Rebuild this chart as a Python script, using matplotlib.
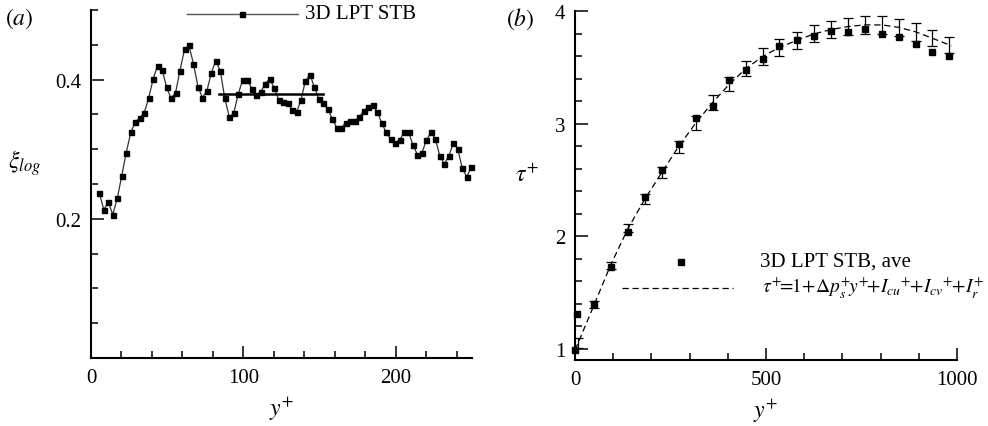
import matplotlib
matplotlib.use('Agg')
import matplotlib.pyplot as plt
from matplotlib.ticker import MultipleLocator, FixedLocator

plt.rcParams['font.family'] = 'serif'
plt.rcParams['font.serif'] = ['Liberation Serif', 'DejaVu Serif']
plt.rcParams['mathtext.fontset'] = 'stix'

# (a) xi_log against y+
yplus_a = [5.5, 8.4, 11.4, 14.3, 17.3, 20.2, 23.1, 26.1, 29.0, 32.0,
           34.9, 37.8, 40.8, 43.7, 46.7, 49.6, 52.5, 55.5, 58.4, 61.4,
           64.3, 67.2, 70.2, 73.1, 76.1, 79.0, 81.9, 84.9, 87.8, 90.8,
           93.7, 96.6, 99.6, 102.5, 105.5, 108.4, 111.3, 114.3, 117.2, 120.2,
           123.1, 126.0, 129.0, 131.9, 134.9, 137.8, 140.7, 143.7, 146.6, 149.6,
           152.5, 155.4, 158.4, 161.3, 164.3, 167.2, 170.1, 173.1, 176.0, 179.0,
           181.9, 184.8, 187.8, 190.7, 193.7, 196.6, 199.5, 202.5, 205.4, 208.4,
           211.3, 214.2, 217.2, 220.1, 223.1, 226.0, 228.9, 231.9, 234.8, 237.8,
           240.7, 243.6, 246.6, 249.5]
xi_log = [0.237, 0.213, 0.224, 0.206, 0.230, 0.262, 0.295, 0.324, 0.339, 0.345,
          0.352, 0.373, 0.401, 0.420, 0.414, 0.389, 0.373, 0.381, 0.413, 0.444,
          0.449, 0.423, 0.390, 0.374, 0.384, 0.410, 0.427, 0.412, 0.373, 0.346,
          0.352, 0.379, 0.400, 0.400, 0.387, 0.378, 0.382, 0.394, 0.401, 0.388,
          0.371, 0.368, 0.366, 0.357, 0.353, 0.371, 0.398, 0.407, 0.389, 0.372,
          0.366, 0.358, 0.343, 0.331, 0.331, 0.338, 0.340, 0.341, 0.346, 0.355,
          0.361, 0.363, 0.354, 0.338, 0.324, 0.315, 0.309, 0.313, 0.324, 0.324,
          0.306, 0.292, 0.295, 0.313, 0.324, 0.315, 0.290, 0.279, 0.290, 0.309,
          0.300, 0.273, 0.260, 0.274]
plateau_x = [84, 152]
plateau_y = [0.379, 0.379]

# (b) total shear stress against y+
stb_x = [0, 4, 50, 93, 139, 183, 227, 271, 316, 360, 404, 448, 491,
         535, 581, 625, 670, 715, 759, 804, 847, 892, 934, 979]
stb_tau = [0.99, 1.31, 1.40, 1.73, 2.04, 2.35, 2.59, 2.82, 3.05, 3.16, 3.39, 3.48, 3.57,
           3.69, 3.74, 3.78, 3.82, 3.81, 3.84, 3.80, 3.77, 3.71, 3.64, 3.60]

model_x = [0, 8, 50, 93, 139, 183, 227, 271, 316, 360, 404, 448, 491,
           535, 581, 625, 670, 715, 759, 804, 847, 892, 934, 979, 985]
model_tau = [0.99, 1.05, 1.39, 1.742, 2.07, 2.33, 2.565, 2.795, 3.005, 3.186, 3.35, 3.49, 3.595,
             3.677, 3.739, 3.796, 3.835, 3.862, 3.877, 3.876, 3.855, 3.815, 3.76, 3.70, 3.69]

bar_x = model_x[1:-1]
bar_center = model_tau[1:-1]
bar_half = [0.045, 0.031, 0.0325, 0.035, 0.047, 0.052, 0.053, 0.064, 0.064, 0.065, 0.069, 0.073,
            0.0745, 0.0745, 0.0755, 0.075, 0.076, 0.079, 0.0775, 0.078, 0.0785, 0.0745, 0.0725]

TICK_FS = 15
LABEL_FS = 17


def style_axes(ax):
    for side in ['top', 'right']:
        ax.spines[side].set_visible(False)
    for side in ['left', 'bottom']:
        ax.spines[side].set_linewidth(1.5)
    ax.tick_params(which='both', direction='in', width=1.1, labelsize=TICK_FS, pad=7)
    ax.tick_params(which='major', length=9)
    ax.tick_params(which='minor', length=5)


fig = plt.figure(figsize=(9.88, 4.27), dpi=100)

# ---- panel (a)
ax1 = fig.add_axes([0.0921, 0.1593, 0.3856, 0.815])
ax1.plot(yplus_a, xi_log, color='#333333', lw=0.9, marker='s', ms=3.6,
         mfc='black', mec='black', clip_on=False)
ax1.plot(plateau_x, plateau_y, color='black', lw=1.8)
ax1.set_xlim(0, 250)
ax1.set_ylim(0, 0.5)
ax1.xaxis.set_major_locator(MultipleLocator(100))
ax1.xaxis.set_minor_locator(MultipleLocator(20))
ax1.yaxis.set_major_locator(FixedLocator([0.2, 0.4]))
ax1.yaxis.set_minor_locator(MultipleLocator(0.05))
ax1.yaxis.set_major_formatter(plt.FuncFormatter(lambda v, _: f'{v:.1f}'))
style_axes(ax1)
ax1.set_xlabel(r'$y^{+}$', fontsize=LABEL_FS, labelpad=6)
ax1.set_ylabel(r'$\xi_{log}$', fontsize=LABEL_FS, rotation=0, labelpad=14)
ax1.yaxis.set_label_coords(-0.175, 0.52)

# legend (a)
ax1.plot([0.252, 0.543], [0.9885, 0.9885], transform=ax1.transAxes,
         color='#555555', lw=1.0, clip_on=False)
ax1.plot([0.396], [0.9885], transform=ax1.transAxes, marker='s', ms=3.6,
         color='black', clip_on=False)
ax1.text(0.562, 0.9885, '3D LPT STB', transform=ax1.transAxes, fontsize=TICK_FS,
         va='center', ha='left')
fig.text(0.005, 0.955, r'$(a)$', fontsize=LABEL_FS, va='center', ha='left')

# ---- panel (b)
ax2 = fig.add_axes([0.582, 0.1546, 0.3866, 0.8173])
ax2.plot(model_x, model_tau, color='black', lw=0.9, ls=(0, (5, 3)))
ax2.errorbar(bar_x, bar_center, yerr=bar_half, fmt='none', ecolor='black',
             elinewidth=0.9, capsize=3.8, capthick=0.9)
ax2.plot(stb_x, stb_tau, ls='none', marker='s', ms=4.2, color='black', clip_on=False)
ax2.set_xlim(0, 1000)
ax2.set_ylim(0.9, 4.0)
ax2.xaxis.set_major_locator(MultipleLocator(500))
ax2.xaxis.set_minor_locator(MultipleLocator(100))
ax2.yaxis.set_major_locator(MultipleLocator(1))
ax2.yaxis.set_minor_locator(MultipleLocator(0.2))
style_axes(ax2)
ax2.set_xlabel(r'$y^{+}$', fontsize=LABEL_FS, labelpad=6)
ax2.set_ylabel(r'$\tau^{+}$', fontsize=LABEL_FS, rotation=0, labelpad=14)
ax2.yaxis.set_label_coords(-0.125, 0.5)

# legend (b)
ax2.plot([0.277], [0.2817], transform=ax2.transAxes, marker='s', ms=4.2,
         color='black', clip_on=False)
ax2.text(0.484, 0.2845, '3D LPT STB, ave', transform=ax2.transAxes, fontsize=TICK_FS,
         va='center', ha='left')
ax2.plot([0.122, 0.414], [0.206, 0.206], transform=ax2.transAxes,
         color='black', lw=0.9, ls=(0, (5, 3)))
ax2.text(0.49, 0.212,
         r'$\tau^{+}\!\!=\!\!1\!+\!\Delta p_s^{+}\!y^{+}\!\!+\!I_{cu}{}^{+}\!\!+\!I_{cv}{}^{+}\!\!+\!I_r^{+}$',
         transform=ax2.transAxes, fontsize=14, va='center', ha='left')
fig.text(0.512, 0.955, r'$(b)$', fontsize=LABEL_FS, va='center', ha='left')

fig.savefig('out.png', dpi=100, facecolor='white')
plt.close(fig)
